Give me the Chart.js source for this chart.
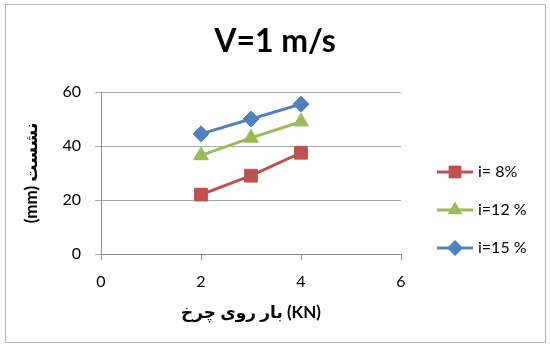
<!DOCTYPE html>
<html lang="fa">
<head>
  <meta charset="UTF-8" />
  <title>V=1 m/s</title>
  <style>
    body {
      margin: 0;
      background: #fff;
    }
    #wrap {
      position: relative;
      width: 550px;
      height: 351px;
    }
  </style>
</head>
<body>
  <div id="wrap"><canvas id="grafico"></canvas></div>

  <script src="https://cdn.jsdelivr.net/npm/chart.js"></script>
  <script>
    // valores
    const cargas = [2, 3, 4];
    const etiquetas = ['i= 8%', 'i=12 %', 'i=15 %'];
    const asiento8 = [22, 29, 37.5];
    const asiento12 = [36.5, 43, 49];
    const asiento15 = [44.5, 50, 55.5];
    const ticksX = [0, 2, 4, 6];
    const ticksY = [0, 20, 40, 60];

    const fuente = "Lato, 'DejaVu Sans', sans-serif";
    const colores = ['#C0504D', '#9BBB59', '#4F81BD'];
    const marcas = ['rect', 'triangle', 'rectRot'];
    const radios = [9, 8.5, 8];

    function puntos(valores) {
      return cargas.map((x, i) => ({ x: x, y: valores[i] }));
    }

    const series = [asiento8, asiento12, asiento15].map((valores, i) => ({
      label: etiquetas[i],
      data: puntos(valores),
      borderColor: colores[i],
      backgroundColor: colores[i],
      borderWidth: 3,
      pointStyle: marcas[i],
      pointRadius: radios[i],
      pointBorderWidth: 1,
      tension: 0
    }));

    // marco exterior y leyenda al estilo Excel
    const marco = {
      id: 'marco',
      beforeDraw(chart) {
        const ctx = chart.ctx;
        ctx.save();
        ctx.fillStyle = '#fff';
        ctx.fillRect(0, 0, chart.width, chart.height);
        ctx.strokeStyle = '#b4b4b4';
        ctx.lineWidth = 1;
        ctx.strokeRect(5.5, 4.5, 540, 338);
        ctx.restore();
      },
      afterDraw(chart) {
        const ctx = chart.ctx;
        ctx.save();
        chart.data.datasets.forEach((ds, i) => {
          const y = 172 + i * 38;
          ctx.strokeStyle = ds.borderColor;
          ctx.lineWidth = 3;
          ctx.beginPath();
          ctx.moveTo(437, y);
          ctx.lineTo(473, y);
          ctx.stroke();
          ctx.fillStyle = ds.backgroundColor;
          ctx.beginPath();
          const r = ds.pointRadius;
          if (ds.pointStyle === 'rect') {
            const s = r * Math.SQRT1_2;
            ctx.rect(455 - s, y - s, 2 * s, 2 * s);
          } else if (ds.pointStyle === 'triangle') {
            ctx.moveTo(455, y - r);
            ctx.lineTo(455 + r * 0.866, y + r * 0.5);
            ctx.lineTo(455 - r * 0.866, y + r * 0.5);
            ctx.closePath();
          } else {
            ctx.moveTo(455, y - r);
            ctx.lineTo(455 + r, y);
            ctx.lineTo(455, y + r);
            ctx.lineTo(455 - r, y);
            ctx.closePath();
          }
          ctx.fill();
          ctx.fillStyle = '#000';
          ctx.font = '16px ' + fuente;
          ctx.textAlign = 'left';
          ctx.textBaseline = 'middle';
          ctx.fillText(ds.label, 478, y);
        });
        ctx.restore();
      }
    };

    const ctx = document.getElementById('grafico').getContext('2d');
    new Chart(ctx, {
      type: 'line',
      data: { datasets: series },
      plugins: [marco],
      options: {
        responsive: true,
        maintainAspectRatio: false,
        animation: false,
        layout: { padding: 0 },
        plugins: {
          legend: { display: false },
          tooltip: { enabled: false },
          title: {
            display: true,
            text: 'V=1 m/s',
            color: '#000',
            font: { family: fuente, size: 32, weight: 'bold', lineHeight: 1.2 },
            padding: { top: 22, bottom: 31.6 }
          }
        },
        scales: {
          x: {
            type: 'linear',
            min: 0,
            max: 6,
            afterBuildTicks: s => { s.ticks = ticksX.map(v => ({ value: v })); },
            afterFit: s => { s.height = 97; },
            grid: { drawOnChartArea: false, drawTicks: true, tickLength: 6, color: '#8c8c8c' },
            border: { display: true, color: '#8c8c8c' },
            ticks: { color: '#000', padding: 12, font: { family: fuente, size: 16 } },
            title: {
              display: true,
              text: 'بار روی چرخ (KN)',
              color: '#000',
              font: { family: fuente, size: 17, weight: 'bold', lineHeight: 1.2 },
              padding: { top: 0, bottom: 28 }
            }
          },
          y: {
            min: 0,
            max: 60,
            afterBuildTicks: s => { s.ticks = ticksY.map(v => ({ value: v })); },
            afterFit: s => { s.width = 101; },
            grid: { color: '#a6a6a6', tickLength: 6, drawTicks: true },
            border: { display: true, color: '#8c8c8c' },
            ticks: { color: '#000', padding: 14, font: { family: fuente, size: 16 } },
            title: {
              display: true,
              text: '(mm) نشست',
              color: '#000',
              font: { family: fuente, size: 17, weight: 'bold', lineHeight: 1.2 },
              padding: { top: 21, bottom: 0 }
            }
          },
          // espacio vacio a la derecha para la leyenda
          hueco: {
            position: 'right',
            display: true,
            afterFit: s => { s.width = 149; },
            grid: { display: false },
            border: { display: false },
            ticks: { display: false }
          }
        }
      }
    });
  </script>
</body>
</html>
